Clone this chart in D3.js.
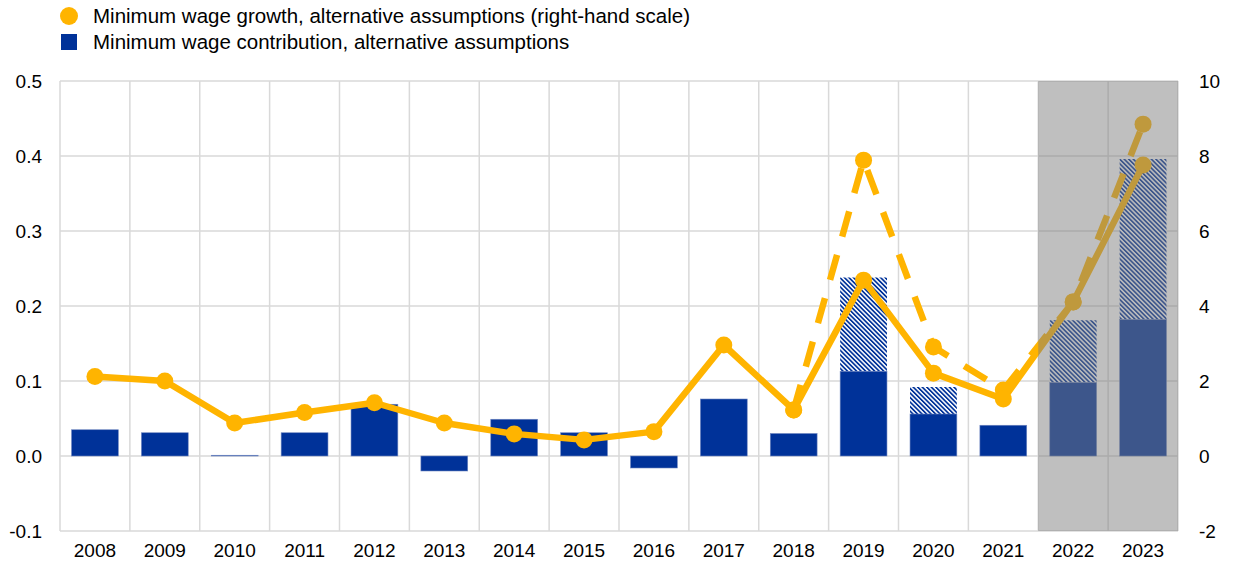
<!DOCTYPE html>
<html><head><meta charset="utf-8">
<script src="https://cdn.jsdelivr.net/npm/d3@7"></script>
<style>body{margin:0;background:#fff;} text{font-family:"Liberation Sans",Arial,sans-serif;fill:#000;}</style>
</head><body><svg id="c" width="1240" height="573"></svg>
<script>
const years = ["2008","2009","2010","2011","2012","2013","2014","2015","2016","2017","2018","2019","2020","2021","2022","2023"];
// Minimum wage contribution (left scale), baseline
const contribution = [0.035,0.031,0.001,0.031,0.069,-0.020,0.049,0.031,-0.016,0.076,0.030,0.113,0.056,0.041,0.098,0.182];
// Minimum wage contribution, alternative assumptions (total height, hatched)
const contributionAlt = [null,null,null,null,null,null,null,null,null,null,null,0.238,0.092,null,0.181,0.396];
// Minimum wage growth (right scale)
const growth = [2.12,2.00,0.88,1.16,1.42,0.88,0.59,0.43,0.65,2.96,1.23,4.69,2.21,1.52,4.11,7.76];
// Minimum wage growth, alternative assumptions (dashed)
const growthAlt = [null,null,null,null,null,null,null,null,null,null,1.23,7.89,2.91,1.76,4.11,8.85];
const leftTicks = [-0.1,0.0,0.1,0.2,0.3,0.4,0.5];
const rightTicks = [-2,0,2,4,6,8,10];
const projectionYears = ["2022","2023"];
const legendItems = ["Minimum wage growth, alternative assumptions (right-hand scale)","Minimum wage contribution, alternative assumptions"];

const BLUE = "#003299", ORANGE = "#ffb400", GRID = "#d9d9d9";
const L = 60, R = 1178, T = 81, B = 531;

const svg = d3.select("#c");
const x = d3.scaleBand().domain(years).range([L, R]).paddingInner(0.33).paddingOuter(0.165);
const yL = d3.scaleLinear().domain([-0.1, 0.5]).range([B, T]);
const yR = d3.scaleLinear().domain([-2, 10]).range([B, T]);
const cx = d => x(d) + x.bandwidth() / 2;
const step = x.step();
const boundary = d => x(d) - step * x.paddingOuter();

// hatch pattern
const defs = svg.append("defs");
const pat = defs.append("pattern").attr("id", "hatch").attr("patternUnits", "userSpaceOnUse")
  .attr("width", 3.2).attr("height", 3.2).attr("patternTransform", "rotate(-45)");
pat.append("rect").attr("width", 3.2).attr("height", 3.2).attr("fill", "#fff");
pat.append("rect").attr("width", 1.7).attr("height", 3.2).attr("fill", BLUE);

// gridlines
const grid = svg.append("g");
grid.selectAll("line.h").data(leftTicks).join("line")
  .attr("x1", L).attr("x2", R).attr("y1", d => yL(d)).attr("y2", d => yL(d))
  .attr("stroke", GRID).attr("stroke-width", 1.5);
const vb = years.map(boundary).concat([R]);
grid.selectAll("line.v").data(vb).join("line")
  .attr("x1", d => d).attr("x2", d => d).attr("y1", T).attr("y2", B)
  .attr("stroke", GRID).attr("stroke-width", 1.5);

// bars
const bars = svg.append("g");
const altIdx = years.map((d, i) => i).filter(i => contributionAlt[i] != null);
bars.selectAll("rect.alt").data(altIdx).join("rect")
  .attr("x", i => x(years[i])).attr("width", x.bandwidth())
  .attr("y", i => yL(contributionAlt[i])).attr("height", i => yL(contribution[i]) - yL(contributionAlt[i]))
  .attr("fill", "url(#hatch)");
bars.selectAll("rect.main").data(years.map((d, i) => i)).join("rect")
  .attr("x", i => x(years[i])).attr("width", x.bandwidth())
  .attr("y", i => yL(Math.max(0, contribution[i])))
  .attr("height", i => Math.abs(yL(contribution[i]) - yL(0)))
  .attr("fill", BLUE).attr("stroke", "#6f86c0").attr("stroke-width", 0.6);

// lines
const lineGen = d3.line().defined(d => d[1] != null).x(d => cx(d[0])).y(d => yR(d[1]));
const altData = years.map((d, i) => [d, growthAlt[i]]);
const mainData = years.map((d, i) => [d, growth[i]]);
svg.append("path").datum(altData).attr("d", lineGen).attr("fill", "none")
  .attr("stroke", ORANGE).attr("stroke-width", 6.5).attr("stroke-dasharray", "26,19");
svg.append("g").selectAll("circle").data(altData.filter(d => d[1] != null)).join("circle")
  .attr("cx", d => cx(d[0])).attr("cy", d => yR(d[1])).attr("r", 8.5).attr("fill", ORANGE);
svg.append("path").datum(mainData).attr("d", lineGen).attr("fill", "none")
  .attr("stroke", ORANGE).attr("stroke-width", 6.5).attr("stroke-linejoin", "round");
svg.append("g").selectAll("circle").data(mainData).join("circle")
  .attr("cx", d => cx(d[0])).attr("cy", d => yR(d[1])).attr("r", 8.5).attr("fill", ORANGE);

// projection shading
svg.append("rect").attr("x", boundary(projectionYears[0])).attr("y", T)
  .attr("width", R - boundary(projectionYears[0])).attr("height", B - T)
  .attr("fill", "rgb(124,124,124)").attr("fill-opacity", 0.49);

// axes
const fs = 19;
const axL = svg.append("g").attr("transform", `translate(${L},0)`)
  .call(d3.axisLeft(yL).tickValues(leftTicks).tickFormat(d => d.toFixed(1)).tickSize(0).tickPadding(18));
const axR = svg.append("g").attr("transform", `translate(${R},0)`)
  .call(d3.axisRight(yR).tickValues(rightTicks).tickFormat(d => String(d)).tickSize(0).tickPadding(21));
const axB = svg.append("g").attr("transform", `translate(0,${B})`)
  .call(d3.axisBottom(x).tickSize(0).tickPadding(13));
[axL, axR, axB].forEach(a => {
  a.select(".domain").remove();
  a.selectAll("text").attr("font-family", "Liberation Sans, Arial, sans-serif").attr("font-size", fs).attr("fill", "#000");
});

// legend
const lg = svg.append("g");
lg.append("circle").attr("cx", 69).attr("cy", 16).attr("r", 9).attr("fill", ORANGE);
lg.append("rect").attr("x", 61).attr("y", 34).attr("width", 16).attr("height", 16).attr("fill", BLUE);
lg.selectAll("text").data(legendItems).join("text")
  .attr("x", 93).attr("y", (d, i) => 23 + i * 26).attr("font-size", 20.5).text(d => d);
</script></body></html>
